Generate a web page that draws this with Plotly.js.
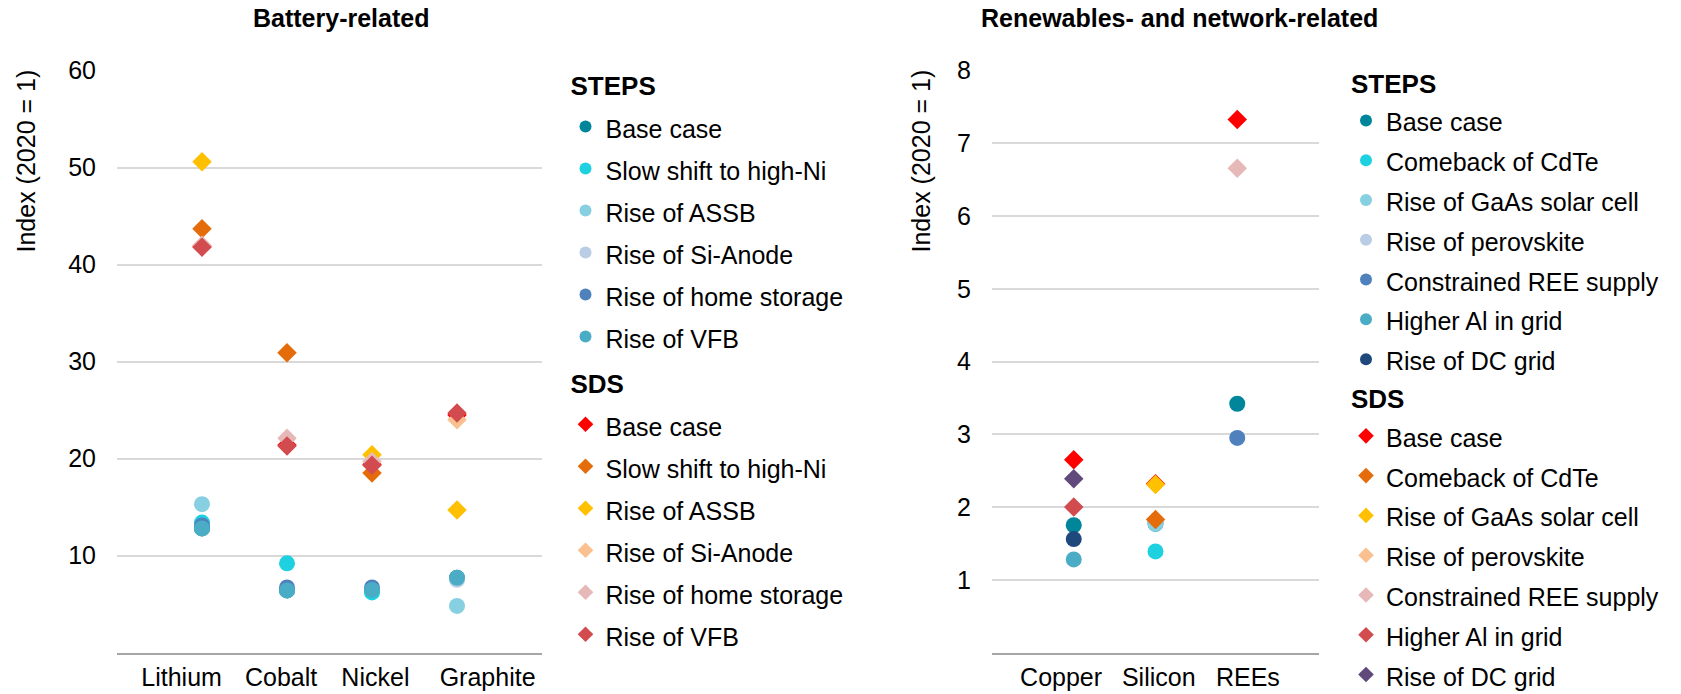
<!DOCTYPE html>
<html>
<head>
<meta charset="utf-8">
<script src="https://cdn.plot.ly/plotly-3.0.1.min.js"></script>
<style>html,body{margin:0;padding:0;background:#fff;}#chart{width:1681px;height:694px;}</style>
</head>
<body>
<div id="chart"></div>
<script>
// ---------- DATA ----------
const batteryCategories = ["Lithium", "Cobalt", "Nickel", "Graphite"];
const batteryScenarios = ["Base case", "Slow shift to high-Ni", "Rise of ASSB", "Rise of Si-Anode", "Rise of home storage", "Rise of VFB"];
// STEPS (circles)
const batSTEPS_base      = [12.8, 6.4, 6.4, 7.7];
const batSTEPS_slowNi    = [13.4, 9.2, 6.2, null];
const batSTEPS_assb      = [15.3, null, null, 4.8];
const batSTEPS_siAnode   = [null, null, null, 7.5];
const batSTEPS_home      = [13.1, 6.7, 6.7, null];
const batSTEPS_vfb       = [12.8, 6.4, 6.45, 7.7];
// SDS (diamonds)
const batSDS_base        = [41.9, 21.4, 19.4, 24.5];
const batSDS_slowNi      = [43.7, 30.9, 18.5, null];
const batSDS_assb        = [50.6, null, 20.4, 14.7];
const batSDS_siAnode     = [null, null, null, 24.0];
const batSDS_home        = [42.0, 22.1, 19.7, null];
const batSDS_vfb         = [41.8, 21.3, 19.3, 24.7];

const renewCategories = ["Copper", "Silicon", "REEs"];
const renewScenarios = ["Base case", "Comeback of CdTe", "Rise of GaAs solar cell", "Rise of perovskite", "Constrained REE supply", "Higher Al in grid", "Rise of DC grid"];
// STEPS (circles)
const renSTEPS_base      = [1.75, 1.77, 3.42];
const renSTEPS_cdte      = [null, 1.39, null];
const renSTEPS_gaas      = [null, 1.77, null];
const renSTEPS_perov     = [null, null, null];
const renSTEPS_ree       = [null, null, 2.95];
const renSTEPS_al        = [1.28, null, null];
const renSTEPS_dc        = [1.56, null, null];
// SDS (diamonds)
const renSDS_base        = [2.65, 2.32, 7.33];
const renSDS_cdte        = [null, 1.83, null];
const renSDS_gaas        = [null, 2.31, null];
const renSDS_perov       = [null, null, null];
const renSDS_ree         = [null, null, 6.66];
const renSDS_al          = [2.0, null, null];
const renSDS_dc          = [2.39, null, null];

const batteryTicks = [10, 20, 30, 40, 50, 60];
const renewTicks = [1, 2, 3, 4, 5, 6, 7, 8];

// ---------- STYLE ----------
const stepsColors = ["#00869A", "#1DD1E1", "#86D0E2", "#B9CDE5", "#4F81BD", "#4BACC6", "#1F497D"];
const sdsColors   = ["#FF0000", "#E46C0A", "#FFC000", "#FAC090", "#E6B9B8", "#D14B4F", "#604A7B"];
const FONT = "Liberation Sans, Arial, sans-serif";

const batSTEPS = [batSTEPS_base, batSTEPS_slowNi, batSTEPS_assb, batSTEPS_siAnode, batSTEPS_home, batSTEPS_vfb];
const batSDS = [batSDS_base, batSDS_slowNi, batSDS_assb, batSDS_siAnode, batSDS_home, batSDS_vfb];
const renSTEPS = [renSTEPS_base, renSTEPS_cdte, renSTEPS_gaas, renSTEPS_perov, renSTEPS_ree, renSTEPS_al, renSTEPS_dc];
const renSDS = [renSDS_base, renSDS_cdte, renSDS_gaas, renSDS_perov, renSDS_ree, renSDS_al, renSDS_dc];

const batX = batteryCategories.map((c, i) => i + 1);
const renX = renewCategories.map((c, i) => i + 1);

function lbl(t, size) { return '<span style="font-size:' + size + 'px">' + t + '</span>'; }

const traces = [];
function addGroup(names, series, xs, colors, symbol, size, group, title, legend, xa, ya, titleSize) {
  names.forEach((n, i) => {
    traces.push({
      type: "scatter", mode: "markers",
      x: xs, y: series[i], name: lbl(n, 25),
      xaxis: xa, yaxis: ya, legend: legend,
      legendgroup: group,
      legendgrouptitle: { text: '<b>' + lbl(title, 26) + '</b>', font: { family: FONT, size: titleSize, color: "#000" } },
      marker: { symbol: symbol, size: size, color: colors[i], line: { width: 0 } },
      hoverinfo: "x+y+name"
    });
  });
}
addGroup(batteryScenarios, batSTEPS, batX, stepsColors, "circle", 16, "bSTEPS", "STEPS", "legend", "x", "y", 33);
addGroup(batteryScenarios, batSDS, batX, sdsColors, "diamond", 15, "bSDS", "SDS", "legend", "x", "y", 33);
addGroup(renewScenarios, renSTEPS, renX, stepsColors, "circle", 16, "rSTEPS", "STEPS", "legend2", "x2", "y2", 23);
addGroup(renewScenarios, renSDS, renX, sdsColors, "diamond", 15, "rSDS", "SDS", "legend2", "x2", "y2", 23);

const W = 1681, H = 694;
const px = v => v / W, py = v => 1 - v / H;

const yTop = 70.7, yBot = 652.5;
const batLabelPos = [0.76, 1.93, 3.04, 4.36];
const renLabelPos = [0.845, 2.04, 3.13];

const axisFont = { family: FONT, size: 25, color: "#000" };

const layout = {
  width: W, height: H,
  margin: { l: 0, r: 0, t: 0, b: 0, autoexpand: false },
  paper_bgcolor: "#fff", plot_bgcolor: "#fff",
  font: { family: FONT, color: "#000" },
  showlegend: true,
  xaxis: {
    domain: [px(117), px(542)], range: [0, 5], anchor: "y",
    tickmode: "array", tickvals: batLabelPos, ticktext: batteryCategories,
    showgrid: false, zeroline: false, showline: true, linecolor: "#a6a6a6", linewidth: 2,
    ticks: "", tickfont: axisFont, ticklabelstandoff: 1, fixedrange: true
  },
  yaxis: {
    domain: [py(yBot), py(yTop)], range: [0, 60], anchor: "x",
    tickmode: "array", tickvals: batteryTicks,
    showgrid: true, gridcolor: "#d9d9d9", gridwidth: 1.5, zeroline: false, showline: false,
    ticks: "", tickfont: axisFont, ticklabelstandoff: 20, fixedrange: true
  },
  xaxis2: {
    domain: [px(992), px(1319)], range: [0, 4], anchor: "y2",
    tickmode: "array", tickvals: renLabelPos, ticktext: renewCategories,
    showgrid: false, zeroline: false, showline: true, linecolor: "#a6a6a6", linewidth: 2,
    ticks: "", tickfont: axisFont, ticklabelstandoff: 1, fixedrange: true
  },
  yaxis2: {
    domain: [py(yBot), py(yTop)], range: [0, 8], anchor: "x2",
    tickmode: "array", tickvals: renewTicks,
    showgrid: true, gridcolor: "#d9d9d9", gridwidth: 1.5, zeroline: false, showline: false,
    ticks: "", tickfont: axisFont, ticklabelstandoff: 20, fixedrange: true
  },
  legend: {
    x: px(565.5), y: py(54.5), xanchor: "left", yanchor: "top",
    font: { family: FONT, size: 30, color: "#000" },
    bgcolor: "rgba(0,0,0,0)", borderwidth: 0,
    traceorder: "grouped", tracegroupgap: 0, itemsizing: "constant", itemclick: false, itemdoubleclick: false
  },
  legend2: {
    x: px(1346), y: py(62.6), xanchor: "left", yanchor: "top",
    font: { family: FONT, size: 28.3, color: "#000" },
    bgcolor: "rgba(0,0,0,0)", borderwidth: 0,
    traceorder: "grouped", tracegroupgap: 4, itemsizing: "constant", itemclick: false, itemdoubleclick: false
  },
  annotations: [
    { text: "<b>Battery-related</b>", xref: "paper", yref: "paper", x: px(340.5), y: py(18), xanchor: "center", yanchor: "middle", showarrow: false, font: { family: FONT, size: 25, color: "#000" } },
    { text: "<b>Renewables- and network-related</b>", xref: "paper", yref: "paper", x: px(1179), y: py(18), xanchor: "center", yanchor: "middle", showarrow: false, font: { family: FONT, size: 25, color: "#000" } },
    { text: "Index (2020 = 1)", textangle: -90, xref: "paper", yref: "paper", x: px(25), y: py(161.5), xanchor: "center", yanchor: "middle", showarrow: false, font: { family: FONT, size: 25, color: "#000" } },
    { text: "Index (2020 = 1)", textangle: -90, xref: "paper", yref: "paper", x: px(920), y: py(161.5), xanchor: "center", yanchor: "middle", showarrow: false, font: { family: FONT, size: 25, color: "#000" } }
  ]
};

Plotly.newPlot("chart", traces, layout, { displayModeBar: false, staticPlot: false, responsive: false });
</script>
</body>
</html>
